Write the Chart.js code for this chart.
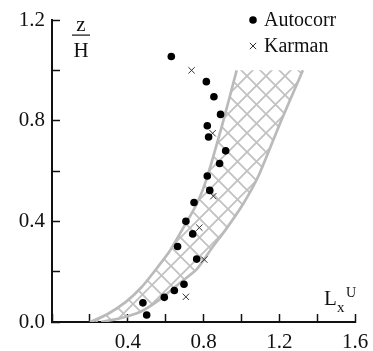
<!DOCTYPE html>
<html>
<head>
<meta charset="utf-8">
<script src="https://cdn.jsdelivr.net/npm/chart.js@4.4.1/dist/chart.umd.min.js"></script>
<style>
  html, body { margin: 0; padding: 0; background: #fff; }
  #wrap { width: 373px; height: 351px; }
</style>
</head>
<body>
<div id="wrap"><canvas id="chart"></canvas></div>
<script>
/* Integral length scale L_x^U vs z/H — autocorrelation vs Karman fit, with range band */

const SERIF = "'Liberation Serif', 'DejaVu Serif', serif";
Chart.defaults.font.family = SERIF;
Chart.defaults.font.size = 21;
Chart.defaults.color = "#111";

// measured points
const autocorrX = [0.63, 0.815, 0.855, 0.89, 0.82, 0.827, 0.917, 0.885, 0.82, 0.833, 0.75, 0.707, 0.743, 0.663, 0.764, 0.697, 0.646, 0.593, 0.48, 0.50];
const autocorrY = [1.055, 0.955, 0.895, 0.825, 0.78, 0.735, 0.68, 0.63, 0.58, 0.523, 0.475, 0.40, 0.35, 0.30, 0.25, 0.15, 0.125, 0.098, 0.076, 0.028];
const karmanX = [0.737, 0.848, 0.852, 0.778, 0.804, 0.707];
const karmanY = [1.0, 0.75, 0.5, 0.375, 0.248, 0.10];

// hatched band: left (upper) edge and right (lower) edge, bottom to top
const bandLeftX = [0.20, 0.29, 0.39, 0.475, 0.56, 0.62, 0.69, 0.765, 0.817, 0.905, 0.975];
const bandLeftY = [0.0, 0.03, 0.08, 0.14, 0.22, 0.28, 0.37, 0.47, 0.57, 0.80, 1.0];
const bandRightX = [0.26, 0.36, 0.465, 0.57, 0.675, 0.765, 0.85, 0.92, 1.01, 1.09, 1.21, 1.325];
const bandRightY = [0.0, 0.015, 0.04, 0.09, 0.155, 0.21, 0.30, 0.37, 0.47, 0.58, 0.80, 1.0];

const yTicks = [0.0, 0.4, 0.8, 1.2];
const xTicks = [0.4, 0.8, 1.2, 1.6];

const pts = (xs, ys) => xs.map((x, i) => ({ x, y: ys[i] }));
const labelled = (list) => (v) => list.some((t) => Math.abs(t - v) < 1e-6) ? v.toFixed(1) : "";

function crossHatch() {
    const s = 19;
    const c = document.createElement("canvas");
    c.width = c.height = s;
    const g = c.getContext("2d");
    g.strokeStyle = "#c2c2c2";
    g.lineWidth = 1.8;
    g.beginPath();
    for (const o of [-s, 0, s]) {
        g.moveTo(o, 0); g.lineTo(o + s, s);
        g.moveTo(o + s, 0); g.lineTo(o, s);
    }
    g.stroke();
    return g.createPattern(c, "repeat");
}

// inward ticks push the label padding into the scale padding; keep the plot box fixed
function fixBox(size) {
    return (s) => {
        if (s.isHorizontal()) s.height = size; else s.width = size;
        s.paddingTop = s.paddingBottom = s.paddingLeft = s.paddingRight = 0;
    };
}

const bandLeft = pts(bandLeftX, bandLeftY);
const bandRight = pts(bandRightX, bandRightY);
const bandShape = bandLeft.concat(bandRight.slice().reverse());

/* free text: z/H, L_x^U and the legend box */
const annotations = {
    id: "annotations",
    afterDraw(chart) {
        const { ctx } = chart;
        ctx.save();
        ctx.fillStyle = "#111";
        ctx.textBaseline = "alphabetic";

        ctx.textAlign = "center";
        ctx.font = `21px ${SERIF}`;
        ctx.fillText("z", 81, 31);
        ctx.fillRect(72, 34.5, 18, 1.2);
        ctx.fillText("H", 81, 57);

        ctx.textAlign = "left";
        ctx.font = `21px ${SERIF}`;
        ctx.fillText("L", 324, 305);
        ctx.font = `15px ${SERIF}`;
        ctx.fillText("x", 337, 312);
        ctx.font = `14px ${SERIF}`;
        ctx.fillText("U", 346, 297);

        // legend
        const items = [chart.data.datasets[0], chart.data.datasets[1]];
        items.forEach((ds, i) => {
            const y = 20 + i * 26;
            ctx.fillStyle = ds.backgroundColor;
            ctx.strokeStyle = ds.borderColor;
            ctx.lineWidth = ds.borderWidth;
            Chart.helpers.drawPoint(ctx, { pointStyle: ds.pointStyle, radius: ds.pointRadius, borderWidth: ds.borderWidth }, 253, y);
            ctx.fillStyle = "#111";
            ctx.font = `20px ${SERIF}`;
            ctx.textBaseline = "middle";
            ctx.fillText(ds.label, 264, y + 1);
        });
        ctx.restore();
    },
};

new Chart(document.getElementById("chart"), {
    type: "scatter",
    data: {
        datasets: [
            {
                label: "Autocorr",
                data: pts(autocorrX, autocorrY),
                pointStyle: "circle",
                pointRadius: 3.8,
                backgroundColor: "#000",
                borderColor: "#000",
                borderWidth: 0,
                order: 0,
            },
            {
                label: "Karman",
                data: pts(karmanX, karmanY),
                pointStyle: "crossRot",
                pointRadius: 4.5,
                backgroundColor: "#333",
                borderColor: "#333",
                borderWidth: 1,
                order: 1,
            },
            {
                label: "band-left",
                data: bandLeft,
                showLine: true,
                tension: 0.2,
                borderColor: "#bababa",
                borderWidth: 2.7,
                pointRadius: 0,
                order: 2,
            },
            {
                label: "band-right",
                data: bandRight,
                showLine: true,
                tension: 0.2,
                borderColor: "#bababa",
                borderWidth: 2.7,
                pointRadius: 0,
                order: 3,
            },
            {
                label: "band",
                data: bandShape,
                showLine: true,
                tension: 0,
                fill: "shape",
                backgroundColor: crossHatch(),
                borderWidth: 0,
                pointRadius: 0,
                order: 4,
            },
        ],
    },
    options: {
        responsive: true,
        maintainAspectRatio: false,
        animation: false,
        layout: { padding: { left: 0, right: 18, top: 20, bottom: 0 } },
        scales: {
            x: {
                type: "linear",
                min: 0,
                max: 1.6,
                afterFit: fixBox(29),
                border: { display: true, color: "#111", width: 2 },
                grid: { drawOnChartArea: false, tickLength: -8, tickColor: "#111", tickWidth: 1.5 },
                ticks: { stepSize: 0.2, padding: 16, autoSkip: false, maxRotation: 0, callback: labelled(xTicks) },
            },
            y: {
                type: "linear",
                min: 0,
                max: 1.2,
                afterFit: fixBox(52),
                border: { display: true, color: "#111", width: 2 },
                grid: { drawOnChartArea: false, tickLength: -8, tickColor: "#111", tickWidth: 1.5 },
                ticks: { stepSize: 0.2, padding: 15, autoSkip: false, callback: labelled(yTicks) },
            },
        },
        plugins: {
            legend: { display: false },
            tooltip: { enabled: false },
        },
    },
    plugins: [annotations],
});
</script>
</body>
</html>
